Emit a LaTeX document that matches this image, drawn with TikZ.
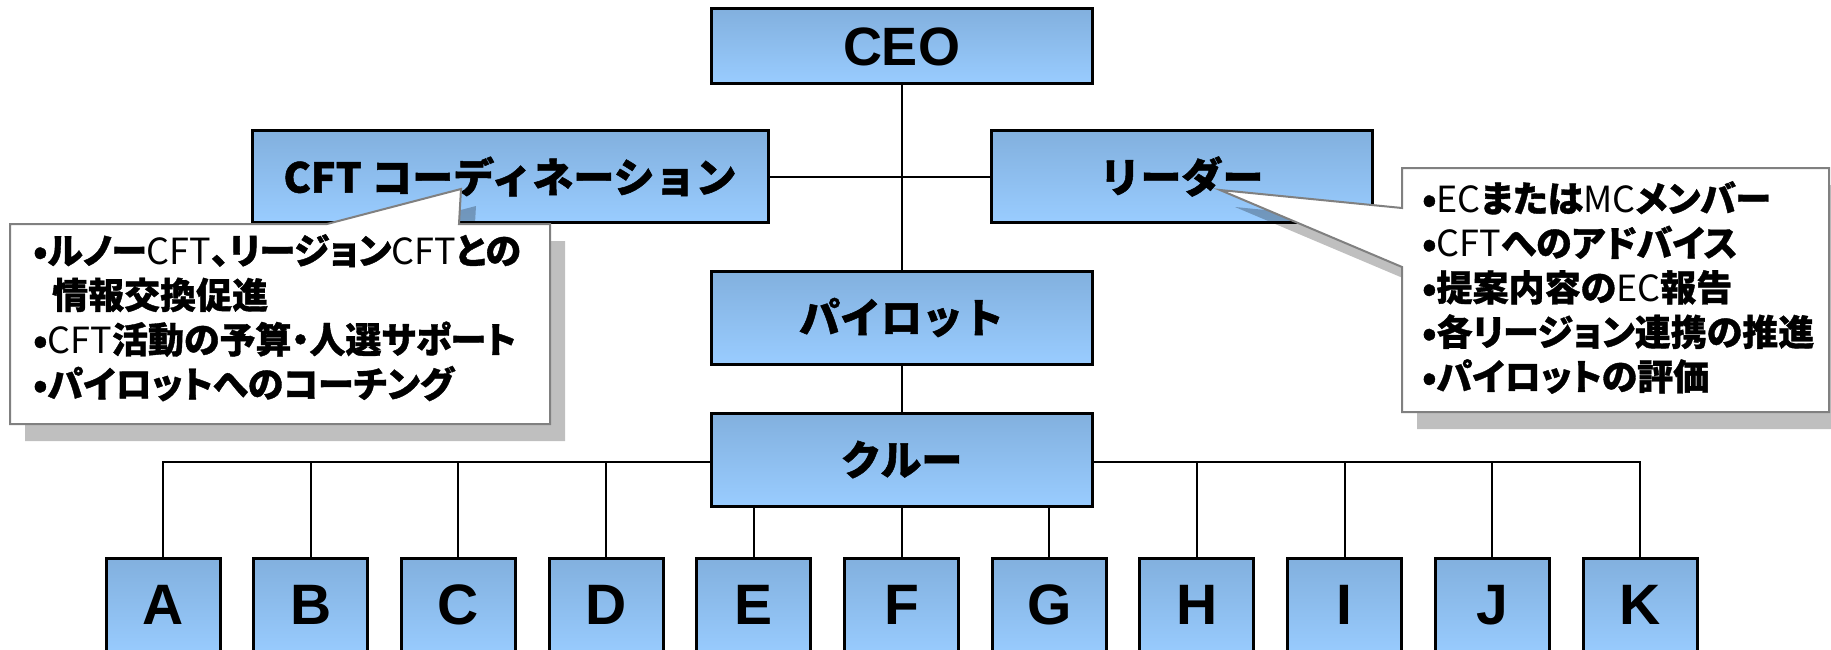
\documentclass[tikz,border=0pt]{standalone}
\usepackage{fontspec}
\setmainfont{Liberation Sans}
\newfontfamily\jpfont{Noto Sans CJK JP}[BoldFeatures={FakeBold=1.2}]
\newfontfamily\jppfont{Noto Sans CJK JP}[RawFeature=+palt, BoldFeatures={FakeBold=1}]
\newfontfamily\arialfont{Liberation Sans}
\newcommand{\latn}[1]{{\mdseries #1}}
\definecolor{boxtop}{RGB}{130,176,222}
\definecolor{boxbot}{RGB}{153,204,255}
\definecolor{cborder}{RGB}{128,128,128}
\pgfdeclarelayer{bg}
\pgfsetlayers{bg,main}
\tikzset{
  orgbox/.style={draw=black, line width=3pt, top color=boxtop, bottom color=boxbot,
    inner sep=0pt, font=\jpfont\bfseries\fontsize{41}{48}\selectfont},
  letterbox/.style={orgbox, anchor=north, minimum width=114pt, inner ysep=0pt,
    text height=65.5pt, text depth=32.5pt, font=\arialfont\bfseries\fontsize{57}{60}\selectfont},
  conn/.style={draw=black, line width=2pt},
  callout/.style={draw=cborder, line width=2pt, fill=white, line join=miter},
  cshadow/.style={fill=black, fill opacity=0.25},
  calltext/.style={anchor=north west, inner sep=0pt, align=left,
    font=\jppfont\bfseries\fontsize{36}{44.5}\selectfont}
}
\begin{document}
\begin{tikzpicture}[x=1pt,y=-1pt]
\useasboundingbox (0,0) rectangle (1831,650);
\clip (0,0) rectangle (1831,650);
% boxes
\node[orgbox, minimum width=381pt, minimum height=75pt,
  font=\arialfont\bfseries\fontsize{54}{56}\selectfont] (ceo) at (901.5,46.5) {CEO};
\node[orgbox, minimum width=516pt, minimum height=91pt] (cft) at (510,176.5) {CFT コーディネーション};
\node[orgbox, minimum width=381pt, minimum height=91pt] (leader) at (1181.5,176.5) {リーダー};
\node[orgbox, minimum width=381pt, minimum height=93pt] (pilot) at (901.5,317.5) {パイロット};
\node[orgbox, minimum width=381pt, minimum height=93pt] (crew) at (901.5,459.5) {クルー};
\foreach \l [count=\i from 0] in {A,B,C,D,E,F,G,H,I,J,K}
  \node[letterbox] (\l) at ({163+147.7*\i},557) {\l};
\coordinate (bus) at (901.5,462);
% connectors
\begin{pgfonlayer}{bg}
\draw[conn] (ceo.south) -- (pilot.north);
\draw[conn] (pilot.south) -- (crew.north);
\draw[conn] (cft.east) -- (leader.west);
\draw[conn] (A.north) |- (bus) -| (K.north);
\foreach \l in {B,C,D,E,F,G,H,I,J}
  \draw[conn] (\l.north) -- (\l.north |- bus);
\end{pgfonlayer}
% left callout
\begin{scope}[shift={(15,17)}]
\fill[cshadow] (10,224) -- (327,224) -- (461,189) -- (459,224) -- (550,224) -- (550,424) -- (10,424) -- cycle;
\end{scope}
\path[callout] (10,224) -- (327,224) -- (461,189) -- (459,224) -- (550,224) -- (550,424) -- (10,424) -- cycle;
\node[calltext] (ltext) at (33,234) {•ルノー\latn{CFT}、リージョン\latn{CFT}との\\
\hspace*{19pt}情報交換促進\\
•\latn{CFT}活動の予算・人選サポート\\
•パイロットへのコーチング};
% right callout
\begin{scope}[shift={(15,17)}]
\fill[cshadow] (1402,168) -- (1829,168) -- (1829,412) -- (1402,412) -- (1402,267) -- (1220,190) -- (1402,208) -- cycle;
\end{scope}
\path[callout] (1402,168) -- (1829,168) -- (1829,412) -- (1402,412) -- (1402,267) -- (1220,190) -- (1402,208) -- cycle;
\node[calltext] (rtext) at (1422,181) {•\latn{EC}または\latn{MC}メンバー\\
•\latn{CFT}へのアドバイス\\
•提案内容の\latn{EC}報告\\
•各リージョン連携の推進\\
•パイロットの評価};
\end{tikzpicture}
\end{document}
